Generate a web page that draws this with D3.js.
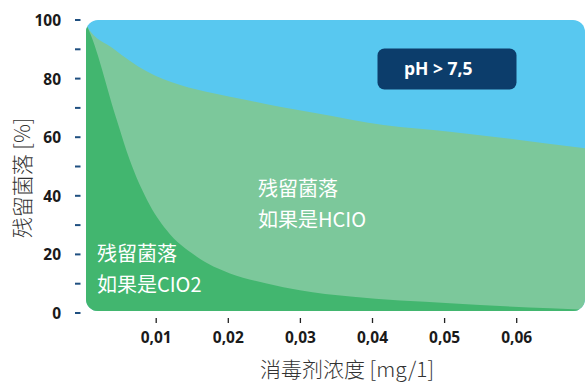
<!DOCTYPE html>
<html>
<head>
<meta charset="utf-8">
<script src="https://cdn.jsdelivr.net/npm/d3@7"></script>
<style>
html,body{margin:0;padding:0;background:#fff;}
svg{display:block;}
</style>
</head>
<body>
<svg id="chart" width="586" height="383"></svg>
<script>
// ---- data ----
const xTickValues = [0.01, 0.02, 0.03, 0.04, 0.05, 0.06];
const xTickLabels = ["0,01", "0,02", "0,03", "0,04", "0,05", "0,06"];
const yTickValues = [0, 20, 40, 60, 80, 100];
const yMinorTicks = [10, 30, 50, 70, 90];

const hcloX = [0, 0.0005, 0.0041, 0.0088, 0.0134, 0.018, 0.0226, 0.0272, 0.0323, 0.0416, 0.0508, 0.0698, 0.072];
const hcloY = [100, 97.7, 90.3, 82.4, 77.8, 75.0, 72.7, 70.4, 68.2, 64.2, 61.9, 56.2, 55.6];

const clo2X = [0, 0.0005, 0.0046, 0.0064, 0.0088, 0.0115, 0.0157, 0.0203, 0.0254, 0.030, 0.037, 0.0508, 0.0647, 0.072];
const clo2Y = [100, 97.7, 65.9, 52.2, 38.6, 28.3, 19.2, 13.5, 10.1, 7.8, 5.6, 3.3, 1.6, 0.9];

const labelHClO = ["残留菌落", "如果是HCIO"];
const labelClO2 = ["残留菌落", "如果是CIO2"];
const badgeText = "pH > 7,5";
const xTitle = "消毒剂浓度 [mg/1]";
const yTitle = "残留菌落 [%]";

// ---- layout ----
const svg = d3.select("#chart");
const x = d3.scaleLinear().domain([0, 0.07]).range([83.6, 588.3]);
const y = d3.scaleLinear().domain([0, 100]).range([313, 20]);

const plot = {x: 86, y: 20, w: 499, h: 291, r: 12};
const COL_BLUE = "#58c8f0", COL_LIGHT = "#7cc89b", COL_DARK = "#42b66f";

const defs = svg.append("defs");
defs.append("clipPath").attr("id", "plotClip")
  .append("rect").attr("x", plot.x).attr("y", plot.y)
  .attr("width", plot.w).attr("height", plot.h).attr("rx", plot.r).attr("ry", plot.r);

const g = svg.append("g").attr("clip-path", "url(#plotClip)");
g.append("rect").attr("x", plot.x).attr("y", plot.y)
  .attr("width", plot.w).attr("height", plot.h).attr("fill", COL_BLUE);

const area = d3.area()
  .x(d => x(d[0])).y0(y(-10)).y1(d => y(d[1]))
  .curve(d3.curveMonotoneX);

g.append("path").datum(hcloX.map((v, i) => [v, hcloY[i]]))
  .attr("d", area).attr("fill", COL_LIGHT);
g.append("path").datum(clo2X.map((v, i) => [v, clo2Y[i]]))
  .attr("d", area).attr("fill", COL_DARK);

// ---- y axis ----
const tickFont = "'Open Sans', 'DejaVu Sans', sans-serif";
const yAxis = d3.axisLeft(y).tickValues(yTickValues).tickSize(0).tickPadding(0);
const yg = svg.append("g").attr("transform", "translate(61,0)").call(yAxis);
yg.select(".domain").remove();
yg.selectAll("text").attr("font-family", tickFont).attr("font-weight", 700)
  .attr("font-size", 15.5).attr("fill", "#1a1a1a").attr("dy", "0.36em");

svg.append("g").selectAll("line").data(yTickValues.concat(yMinorTicks)).join("line")
  .attr("x1", 75).attr("x2", 80.5)
  .attr("y1", d => y(d)).attr("y2", d => y(d))
  .attr("stroke", "#1f4f80").attr("stroke-width", 2);

// ---- x axis ----
const xAxis = d3.axisBottom(x).tickValues(xTickValues)
  .tickFormat((d, i) => xTickLabels[i]).tickSize(5).tickPadding(9);
const xg = svg.append("g").attr("transform", "translate(0,318)").call(xAxis);
xg.select(".domain").remove();
xg.selectAll("line").attr("stroke", "#222").attr("stroke-width", 1.3);
xg.selectAll("text").attr("font-family", tickFont).attr("font-weight", 700)
  .attr("font-size", 15.5).attr("fill", "#1a1a1a");

// ---- titles ----
const cjk = "'Noto Sans CJK SC', 'Noto Sans', sans-serif";
svg.append("text").attr("x", 347).attr("y", 377)
  .attr("text-anchor", "middle").attr("font-family", cjk).attr("font-weight", 300)
  .attr("font-size", 21).attr("fill", "#333").text(xTitle);
svg.append("text").attr("transform", "translate(30,178) rotate(-90)")
  .attr("text-anchor", "middle").attr("font-family", cjk).attr("font-weight", 300)
  .attr("font-size", 21).attr("fill", "#333").text(yTitle);

// ---- region labels ----
function drawLabel(lines, x0, baselines) {
  svg.append("g").selectAll("text").data(lines).join("text")
    .attr("x", x0).attr("y", (d, i) => baselines[i])
    .attr("font-family", cjk).attr("font-size", 20).attr("font-weight", 400)
    .attr("fill", "#ffffff").text(d => d);
}
drawLabel(labelHClO, 258, [195.5, 227]);
drawLabel(labelClO2, 97, [261, 291.5]);

// ---- badge ----
svg.append("rect").attr("x", 377.5).attr("y", 48.5).attr("width", 139).attr("height", 41)
  .attr("rx", 7).attr("fill", "#0c3d6b");
svg.append("text").attr("x", 404).attr("y", 74.5)
  .attr("font-family", tickFont).attr("font-weight", 700).attr("font-size", 17.5)
  .attr("fill", "#ffffff").text(badgeText);
</script>
</body>
</html>
